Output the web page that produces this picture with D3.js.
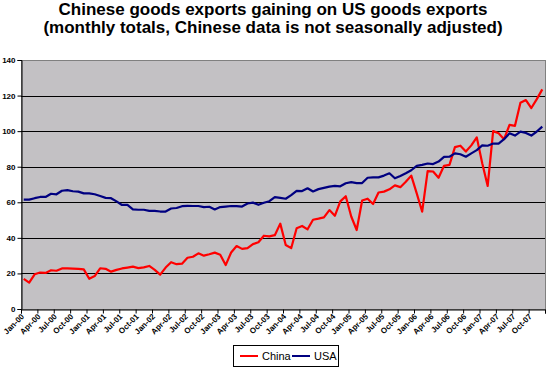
<!DOCTYPE html>
<html><head><meta charset="utf-8">
<script src="https://cdn.jsdelivr.net/npm/d3@7"></script>
<style>
html,body{margin:0;padding:0;background:#fff;}
svg{display:block;font-family:"Liberation Sans",Arial,sans-serif;}
</style></head>
<body>
<svg id="chart" width="547" height="370"></svg>
<script>
const titleLines = ["Chinese goods exports gaining on US goods exports",
                    "(monthly totals, Chinese data is not seasonally adjusted)"];
const monthNames = ["Jan","Feb","Mar","Apr","May","Jun","Jul","Aug","Sep","Oct","Nov","Dec"];
const years = ["00","01","02","03","04","05","06","07"];
const months = years.flatMap(y => monthNames.map(m => m + "-" + y));
const yTicks = [0,20,40,60,80,100,120,140];
const seriesNames = ["China","USA"];
const china = [16.9,14.8,19.5,20.5,20.3,21.8,21.5,22.8,22.8,22.7,22.6,22.3,
  17,18.5,22.9,22.6,21,22,22.8,23.3,23.8,23,23.4,24.2,
  22,19.3,23.3,26.3,25.2,25.5,28.8,29.4,31.3,30,30.8,31.7,
  30.5,24.7,31.8,35.4,33.8,34.2,36.5,37.5,41.2,40.8,41.5,48,
  36,34.2,45.4,46.7,44.8,50.2,50.8,51.5,55.6,52.4,60.5,63.4,
  52,44.4,61,62,59,65.5,66,67.3,69.5,68.5,71.5,75,
  65,54.7,77.5,77.3,73.8,80.5,81,91,91.8,88.5,92,96.5,
  82,69.2,100,98.8,95.5,103.5,103,116,117.5,113,118,123.5];
const usa = [61.5,61.5,62.3,63,63,64.8,64.5,66.5,66.8,66.2,66,65,
  65,64.5,63.5,62.5,62.3,60.5,58.5,58.5,56,55.8,55.8,55.2,
  55.2,54.8,54.8,56.5,56.8,57.8,58,57.9,57.9,57.3,57.5,56,
  57.3,57.6,57.9,57.8,57.6,59.3,59.8,58.6,59.7,60.6,62.9,62.5,
  62,64,66.4,66.3,67.9,66.1,67.4,68.1,68.8,69.2,69,70.7,
  71.3,70.8,70.8,73.8,74,74,75,76.3,73.5,74.8,76.3,78,
  80.5,81,81.8,81.5,82.9,85.5,85.6,87.5,87,85.6,87.5,89.3,
  92,91.8,93,93,95.5,98.8,97.5,99.7,99,97.5,99.8,102.5];
const colors = ["#ff0000","#000080"];

const svg = d3.select("#chart");
const L = 21, R = 545, T = 60, B = 309;

const x = d3.scaleBand().domain(months).range([L, R]).padding(0);
const y = d3.scaleLinear().domain([0,140]).range([B, T]);
const cx = m => x(m) + x.bandwidth()/2;

// title
svg.append("g").selectAll("text").data(titleLines).join("text")
  .attr("x", 273).attr("y", (d,i) => 15 + i*18)
  .attr("text-anchor","middle").attr("font-weight","bold")
  .attr("font-size", 17).attr("fill","#000").text(d => d);

// plot area
svg.append("rect").attr("x", L).attr("y", T).attr("width", R-L).attr("height", B-T)
  .attr("fill","#c3c1c4").attr("stroke","#808080").attr("stroke-width",1)
  .attr("shape-rendering","crispEdges");

// gridlines
svg.append("g").selectAll("line").data(yTicks.filter(v => v>0 && v<140)).join("line")
  .attr("x1", L).attr("x2", R).attr("y1", d => Math.round(y(d))+0.5).attr("y2", d => Math.round(y(d))+0.5)
  .attr("stroke","#000").attr("stroke-width",1);

// y axis
const yAxis = d3.axisLeft(y).tickValues(yTicks).tickSize(4).tickPadding(2);
const gy = svg.append("g").attr("transform",`translate(${L+0.5},0)`).call(yAxis);
gy.select(".domain").attr("stroke","#000");
gy.selectAll(".tick line").attr("stroke","#000");
gy.selectAll(".tick text").attr("font-size",8).attr("font-weight","bold")
  .attr("font-family","'Liberation Sans',Arial,sans-serif").attr("fill","#000");

// x axis
const tickMonths = months.filter((m,i) => i%3===0);
const xAxis = d3.axisBottom(x).tickValues(tickMonths).tickSize(4).tickFormat("");
const gx = svg.append("g").attr("transform",`translate(0,${B+0.5})`).call(xAxis);
gx.select(".domain").attr("stroke","#000");
gx.selectAll(".tick").attr("transform", d => `translate(${x(d)+0.5},0)`);
gx.selectAll(".tick line").attr("stroke","#000");
gx.append("line").attr("x1",R+0.5).attr("x2",R+0.5).attr("y1",0).attr("y2",4).attr("stroke","#000");
svg.append("g").selectAll("text").data(tickMonths).join("text")
  .attr("transform", d => `translate(${cx(d)+1},${B+8}) rotate(-45)`)
  .attr("text-anchor","end").attr("font-size",8).attr("font-weight","bold")
  .attr("fill","#000").text(d => d);

// lines
const line = d3.line().x((d,i) => cx(months[i])).y(d => y(d));
[china, usa].forEach((s,k) => {
  svg.append("path").datum(s).attr("d", line).attr("fill","none")
    .attr("stroke", colors[k]).attr("stroke-width",2.2).attr("stroke-linejoin","round");
});

// legend
const lg = svg.append("g");
lg.append("rect").attr("x",233.5).attr("y",345.5).attr("width",105).attr("height",21)
  .attr("fill","#fff").attr("stroke","#000");
const items = lg.selectAll("g").data(seriesNames).join("g")
  .attr("transform",(d,i) => `translate(${240 + i*52},356)`);
items.append("line").attr("x1",0).attr("x2",18).attr("y1",0).attr("y2",0)
  .attr("stroke",(d,i)=>colors[i]).attr("stroke-width",2);
items.append("text").attr("x",22).attr("y",4).attr("font-size",11).attr("fill","#000").text(d=>d);
</script>
</body></html>
